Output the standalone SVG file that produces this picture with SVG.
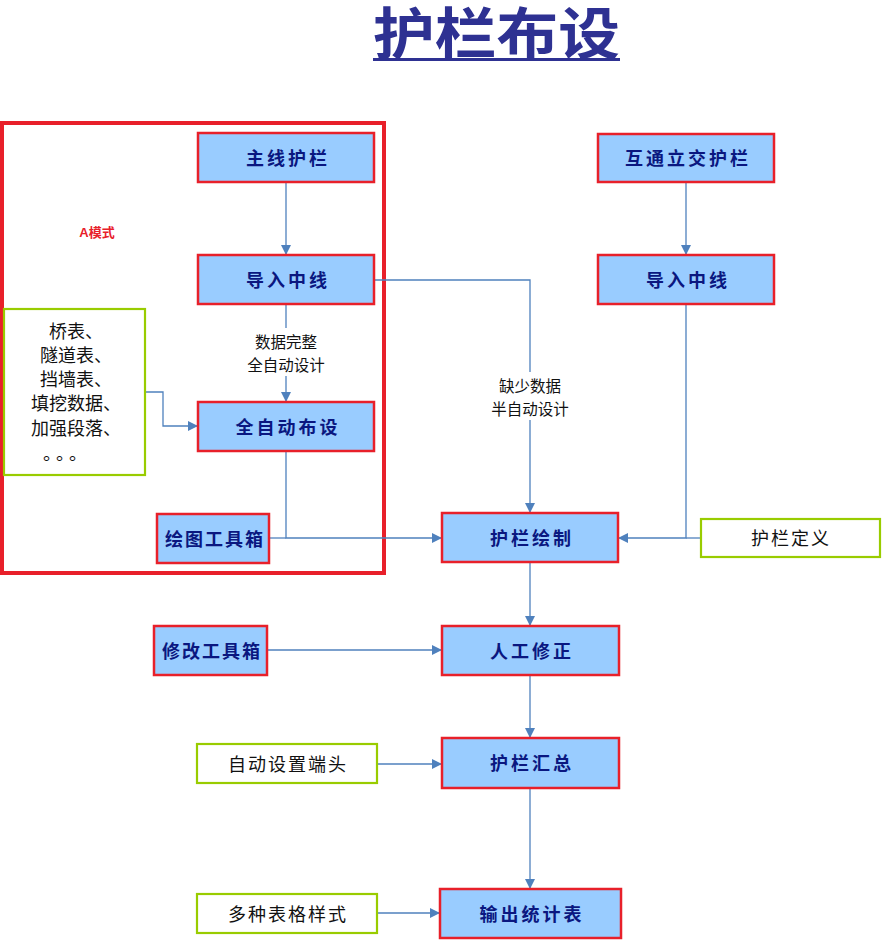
<svg xmlns="http://www.w3.org/2000/svg" width="883" height="943" viewBox="0 0 883 943">
<defs>
<marker id="arr" markerUnits="userSpaceOnUse" markerWidth="12" markerHeight="12" refX="10" refY="5" orient="auto">
<path d="M0,0 L10,5 L0,10 Z" fill="#4F81BD"/>
</marker>
<style>
.blue{fill:#99CCFF;stroke:#E8202A;stroke-width:2.5}
.green{fill:#FFFFFF;stroke:#99CC00;stroke-width:2.2}
.bt{font-family:"Noto Sans CJK SC","Noto Sans",sans-serif;font-weight:bold;font-size:18px;fill:#0A1780;text-anchor:middle;dominant-baseline:central;letter-spacing:3px}
.gt{font-family:"Noto Sans CJK SC","Noto Sans",sans-serif;font-size:18px;fill:#111;text-anchor:middle;dominant-baseline:central;letter-spacing:2px}
.lt{font-family:"Noto Sans CJK SC","Noto Sans",sans-serif;font-size:15.5px;fill:#111;text-anchor:middle;dominant-baseline:central}
.c{fill:none;stroke:#4F81BD;stroke-width:1.3}
</style>
</defs>
<rect width="883" height="943" fill="#FFFFFF"/>
<g id="title">
<text x="373" y="54" font-family="'Liberation Sans','Noto Sans CJK SC',sans-serif" font-weight="bold" font-size="56" fill="#2E3192" textLength="247" lengthAdjust="spacingAndGlyphs">护栏布设</text>
<rect x="373" y="58" width="247" height="3" fill="#2E3192"/>
</g>
<g id="frameA">
<rect x="2" y="123" width="382" height="450" fill="none" stroke="#E8202A" stroke-width="4"/>
<text x="97" y="232" font-family="'Liberation Sans','Noto Sans CJK SC',sans-serif" font-weight="bold" font-size="13" fill="#E8202A" text-anchor="middle" dominant-baseline="central">A模式</text>
</g>
<g id="connectors">
<path class="c" d="M286,183 V255" marker-end="url(#arr)"/>
<path class="c" d="M286,304 V402" marker-end="url(#arr)"/>
<path class="c" d="M145,392 H163 V426 H198" marker-end="url(#arr)"/>
<path class="c" d="M286,451 V538 H442" marker-end="url(#arr)"/>
<path class="c" d="M269,538 H286"/>
<path class="c" d="M374,280 H530 V513" marker-end="url(#arr)"/>
<path class="c" d="M686,182 V255" marker-end="url(#arr)"/>
<path class="c" d="M686,304 V538 H618" marker-end="url(#arr)"/>
<path class="c" d="M701,538 H686"/>
<path class="c" d="M530,562 V626" marker-end="url(#arr)"/>
<path class="c" d="M267,650 H442" marker-end="url(#arr)"/>
<path class="c" d="M530,675 V738" marker-end="url(#arr)"/>
<path class="c" d="M377,764 H442" marker-end="url(#arr)"/>
<path class="c" d="M530,788 V889" marker-end="url(#arr)"/>
<path class="c" d="M377,913 H440" marker-end="url(#arr)"/>
<rect x="240" y="328" width="92" height="48" fill="#FFFFFF"/>
<text class="lt" x="286" y="341">数据完整</text>
<text class="lt" x="286" y="364">全自动设计</text>
<rect x="484" y="372" width="92" height="48" fill="#FFFFFF"/>
<text class="lt" x="530" y="385">缺少数据</text>
<text class="lt" x="530" y="408">半自动设计</text>
</g>
<g id="n_zhuxian">
<rect class="blue" x="198" y="133" width="176" height="49"/>
<text class="bt" x="288" y="157">主线护栏</text>
</g>
<g id="n_daoru1">
<rect class="blue" x="198" y="255" width="176" height="49"/>
<text class="bt" x="288" y="279">导入中线</text>
</g>
<g id="n_tables">
<rect class="green" x="4" y="309" width="141" height="166"/>
<text class="gt" x="76" y="330" style="letter-spacing:0">桥表、</text>
<text class="gt" x="76" y="354" style="letter-spacing:0">隧道表、</text>
<text class="gt" x="76" y="378" style="letter-spacing:0">挡墙表、</text>
<text class="gt" x="76" y="402" style="letter-spacing:0">填挖数据、</text>
<text class="gt" x="76" y="427" style="letter-spacing:0">加强段落、</text>
<text class="gt" x="43" y="452" style="letter-spacing:4px;text-anchor:start">。。。</text>
</g>
<g id="n_quanzidong">
<rect class="blue" x="198" y="402" width="176" height="49"/>
<text class="bt" x="288" y="426">全自动布设</text>
</g>
<g id="n_huitu">
<rect class="blue" x="157" y="514" width="112" height="49"/>
<text class="bt" x="215" y="538" style="letter-spacing:2px">绘图工具箱</text>
</g>
<g id="n_hutong">
<rect class="blue" x="598" y="134" width="176" height="48"/>
<text class="bt" x="688" y="157">互通立交护栏</text>
</g>
<g id="n_daoru2">
<rect class="blue" x="598" y="255" width="176" height="49"/>
<text class="bt" x="688" y="279">导入中线</text>
</g>
<g id="n_huizhi">
<rect class="blue" x="442" y="513" width="176" height="49"/>
<text class="bt" x="532" y="537">护栏绘制</text>
</g>
<g id="n_dingyi">
<rect class="green" x="701" y="519" width="179" height="38"/>
<text class="gt" x="791" y="537">护栏定义</text>
</g>
<g id="n_xiugai">
<rect class="blue" x="154" y="626" width="113" height="49"/>
<text class="bt" x="212" y="650" style="letter-spacing:2px">修改工具箱</text>
</g>
<g id="n_rengong">
<rect class="blue" x="442" y="626" width="177" height="49"/>
<text class="bt" x="532" y="650">人工修正</text>
</g>
<g id="n_duantou">
<rect class="green" x="197" y="744" width="180" height="39"/>
<text class="gt" x="288" y="763">自动设置端头</text>
</g>
<g id="n_huizong">
<rect class="blue" x="442" y="738" width="177" height="50"/>
<text class="bt" x="532" y="762">护栏汇总</text>
</g>
<g id="n_yangshi">
<rect class="green" x="197" y="894" width="180" height="39"/>
<text class="gt" x="288" y="913">多种表格样式</text>
</g>
<g id="n_shuchu">
<rect class="blue" x="440" y="889" width="181" height="49"/>
<text class="bt" x="532" y="913">输出统计表</text>
</g>
</svg>
